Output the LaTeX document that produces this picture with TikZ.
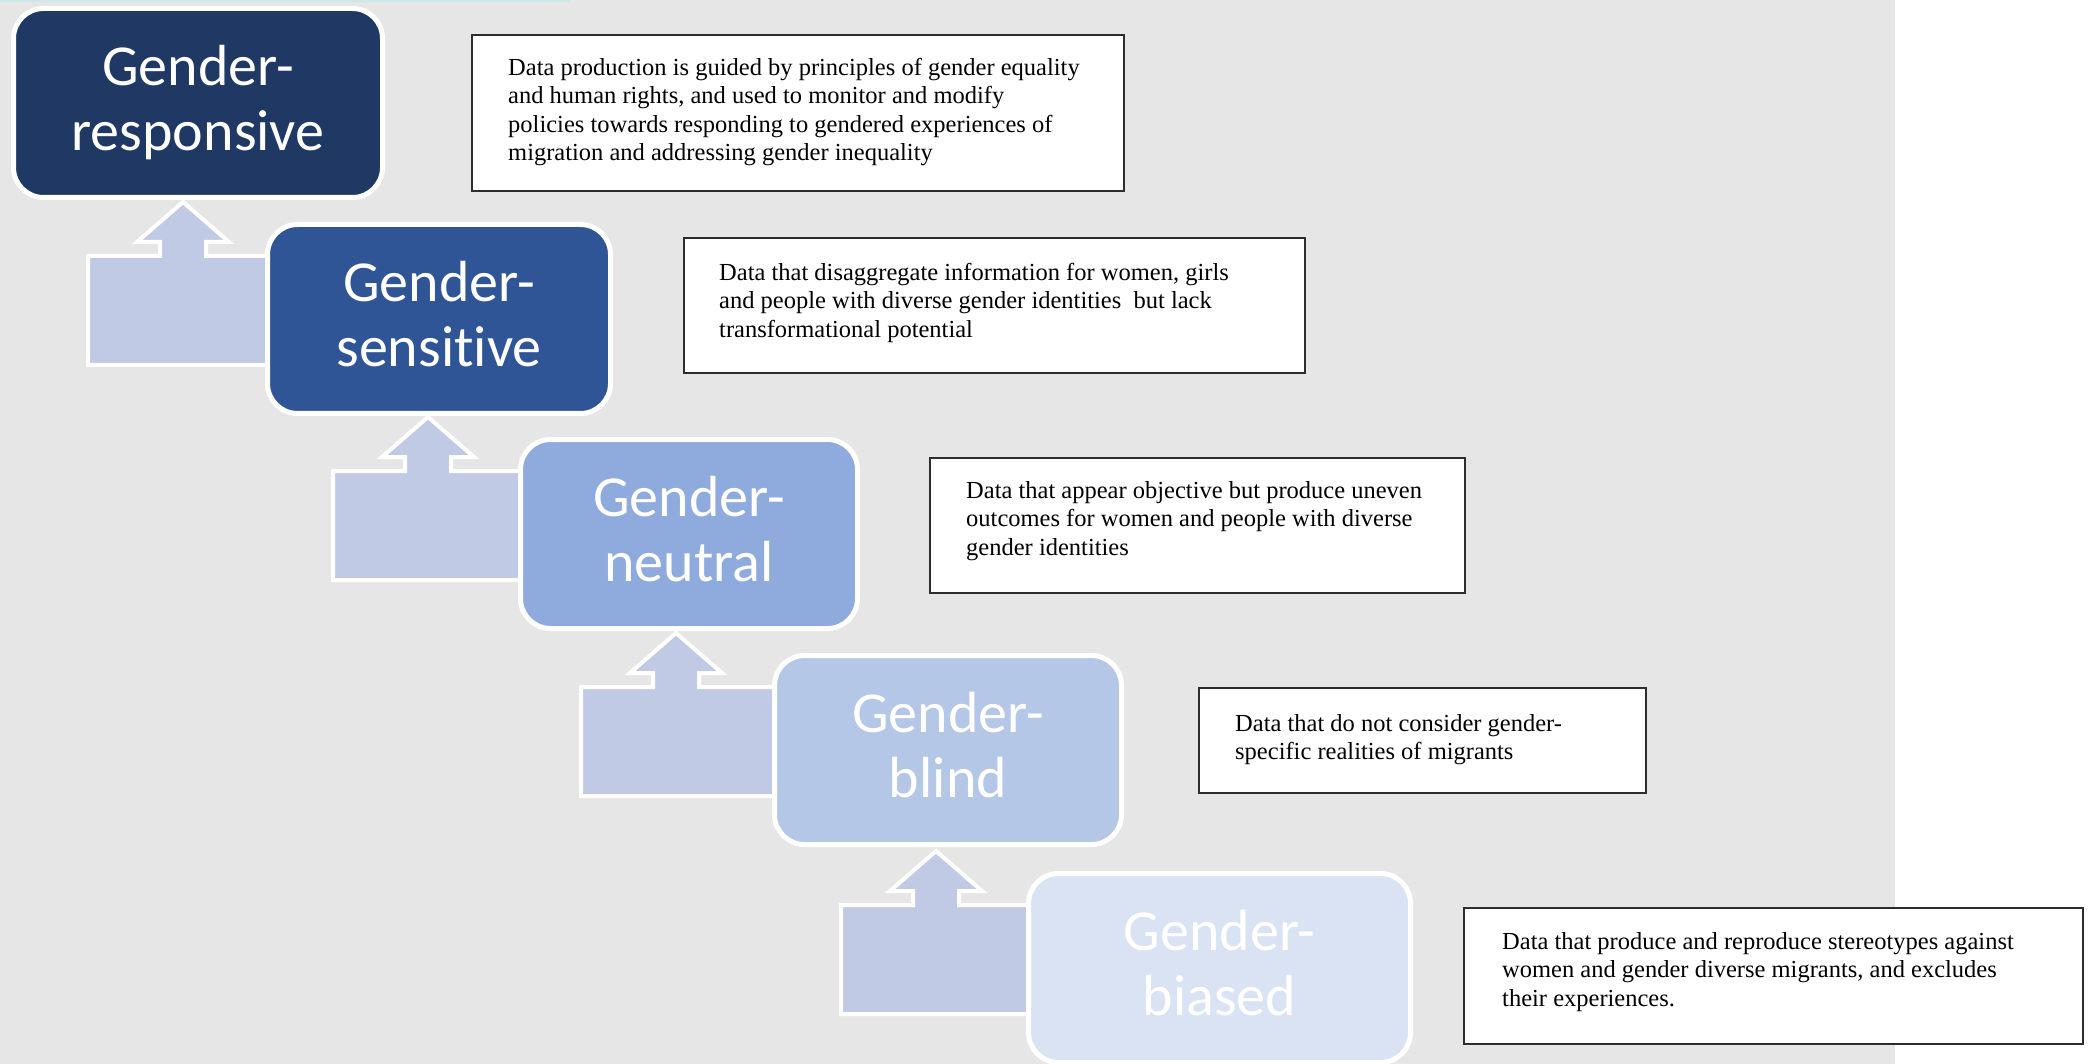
\documentclass[tikz,border=0pt]{standalone}
\usepackage{fontspec}
\setmainfont{Liberation Serif}
\newfontfamily\boxfont[Ligatures=NoCommon]{Carlito}
\usetikzlibrary{positioning,calc}

\definecolor{bggray}{RGB}{230,230,230}
\definecolor{topstrip}{RGB}{206,232,234}
\definecolor{arrowblue}{RGB}{192,202,229}
\definecolor{levelA}{RGB}{31,56,100}
\definecolor{levelB}{RGB}{47,85,151}
\definecolor{levelC}{RGB}{143,170,220}
\definecolor{levelD}{RGB}{180,199,231}
\definecolor{levelE}{RGB}{218,227,243}
\definecolor{noteline}{RGB}{45,45,45}

\begin{document}
\begin{tikzpicture}[x=1pt,y=-1pt,
  level/.style={draw=white, line width=5pt, rounded corners=30pt, anchor=north west,
    minimum height=189pt, text=white, align=center, font=\boxfont\fontsize{58}{65}\selectfont,
    execute at end node={\rule[-10pt]{0pt}{10pt}}},
  bentarrow/.style={draw=white, line width=4pt, fill=arrowblue},
  notebox/.style={draw=noteline, line width=1.6pt, fill=white, anchor=north west},
  notetext/.style={inner sep=0pt, align=left, font=\fontsize{24.5}{28.5}\selectfont}]
\useasboundingbox (0,0) rectangle (2091,1064);
\fill[bggray] (0,0) rectangle (1895,1064);
\fill[topstrip] (0,0) rectangle (570,2);

% corners of the lower steps
\coordinate (c2) at (265,222);
\coordinate (c3) at (518,437);
\coordinate (c4) at (772,653);
\coordinate (c5) at (1026,871);

% bent-up arrows between the steps
\foreach \c/\dx in {c2/8,c3/0,c4/-6,c5/0}
  \draw[bentarrow] ($(\c)+(-185+\dx,143)$) -- ++(0,-109) -- ++(72,0) -- ++(0,-14) -- ++(-23,0)
    -- ++(46,-40) -- ++(46,40) -- ++(-23,0) -- ++(0,14) -- ++(87-\dx,0) -- ++(0,109) -- cycle;

\node[level, fill=levelA, minimum width=369pt] (responsive) at (11,6) {Gender-\\responsive};
\node[level, fill=levelB, minimum width=343pt] (sensitive) at (c2) {Gender-\\sensitive};
\node[level, fill=levelC, minimum width=337pt] (neutral) at (c3) {Gender-\\neutral};
\node[level, fill=levelD, minimum width=347pt] (blind) at (c4) {Gender-\\blind};
\node[level, fill=levelE, minimum width=382pt] (biased) at (c5) {Gender-\\biased};

\node[notebox, minimum width=652pt, minimum height=156pt] (responsivenote) at (471,34) {};
\node[notetext, below right=24pt and 37pt of responsivenote.north west]
  {Data production is guided by principles of gender equality\\
   and human rights, and used to monitor and modify\\
   policies towards responding to gendered experiences of\\
   migration and addressing gender inequality};

\node[notebox, minimum width=621pt, minimum height=135pt] (sensitivenote) at (683,237) {};
\node[notetext, below right=26pt and 36pt of sensitivenote.north west]
  {Data that disaggregate information for women, girls\\
   and people with diverse gender identities\ \ but lack\\
   transformational potential};

\node[notebox, minimum width=535pt, minimum height=135pt] (neutralnote) at (929,457) {};
\node[notetext, below right=24pt and 37pt of neutralnote.north west]
  {Data that appear objective but produce uneven\\
   outcomes for women and people with diverse\\
   gender identities};

\node[notebox, minimum width=447pt, minimum height=105pt] (blindnote) at (1198,687) {};
\node[notetext, below right=27pt and 37pt of blindnote.north west]
  {Data that do not consider gender-\\
   specific realities of migrants};

\node[notebox, minimum width=619pt, minimum height=136pt] (biasednote) at (1463,907) {};
\node[notetext, below right=25pt and 39pt of biasednote.north west]
  {Data that produce and reproduce stereotypes against\\
   women and gender diverse migrants, and excludes\\
   their experiences.};
\end{tikzpicture}
\end{document}
